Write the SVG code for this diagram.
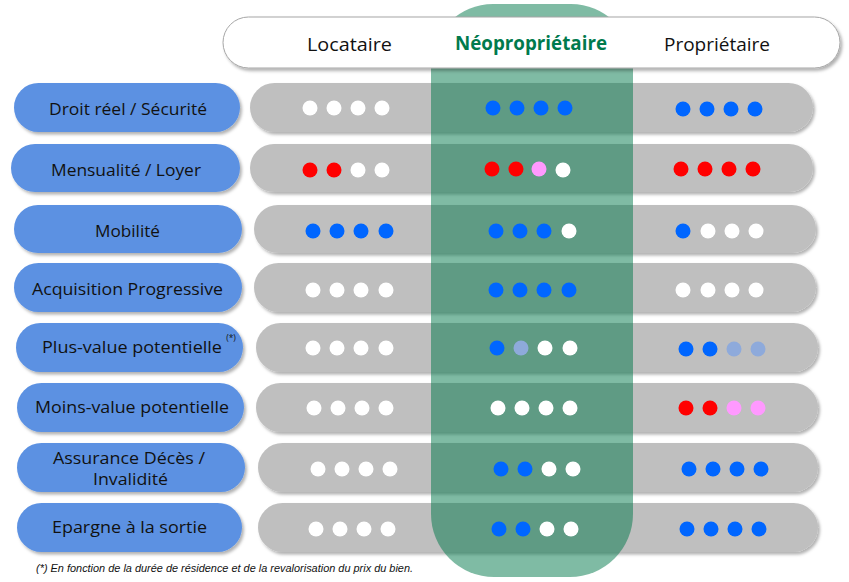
<svg xmlns="http://www.w3.org/2000/svg" width="849" height="582" viewBox="0 0 849 582">
<defs>
<filter id="sh" x="-10%" y="-30%" width="120%" height="170%">
<feDropShadow dx="2" dy="2.5" stdDeviation="1.5" flood-color="#000" flood-opacity="0.3"/>
</filter>
<style>
.lab{fill:#5b91e2;filter:url(#sh)}
.bar{fill:#bfbfbf;filter:url(#sh)}
.lt{font-family:"Open Sans","Liberation Sans",sans-serif;font-size:17px;fill:#111;text-anchor:middle;dominant-baseline:central}
.ht{font-family:"Open Sans","Liberation Sans",sans-serif;font-size:19px;fill:#111;text-anchor:middle;dominant-baseline:central}
.w{fill:#fff}.b{fill:#0066ff}.r{fill:#ff0000}.p{fill:#ff99ff}.lb{fill:#8eaadb}
</style>
</defs>
<rect width="849" height="582" fill="#fff"/>

<g id="bars">
<rect class="bar" x="250" y="83" width="563" height="49" rx="24.5"/>
<rect class="bar" x="250" y="144" width="563" height="48" rx="24"/>
<rect class="bar" x="254" y="205" width="562" height="48" rx="24"/>
<rect class="bar" x="254" y="263" width="562" height="49" rx="24.5"/>
<rect class="bar" x="256" y="323" width="562" height="49" rx="24.5"/>
<rect class="bar" x="256" y="383" width="562" height="49" rx="24.5"/>
<rect class="bar" x="258" y="443" width="560" height="49" rx="24.5"/>
<rect class="bar" x="258" y="503" width="560" height="49" rx="24.5"/>
</g>

<path id="neo-column" d="M431 66 A62 62 0 0 1 493 4 L571 4 A62 62 0 0 1 633 66 L633 514 A63 63 0 0 1 570 577 L494 577 A63 63 0 0 1 431 514 Z" fill="#00784a" fill-opacity="0.5"/>

<g id="header">
<rect x="223" y="17" width="617" height="51" rx="25.5" fill="#fff" stroke="#a6a6a6" stroke-width="1" filter="url(#sh)"/>
<text class="ht" x="349.5" y="44" textLength="85" lengthAdjust="spacingAndGlyphs">Locataire</text>
<text class="ht" x="531" y="43" textLength="152" lengthAdjust="spacingAndGlyphs" style="font-weight:bold;fill:#007a4d">Néopropriétaire</text>
<text class="ht" x="717" y="44" textLength="106" lengthAdjust="spacingAndGlyphs">Propriétaire</text>
</g>

<g id="row1">
<rect class="lab" x="14" y="83" width="226" height="49" rx="24.5"/>
<text class="lt" x="128" y="108" textLength="158" lengthAdjust="spacingAndGlyphs">Droit réel / Sécurité</text>
<circle class="w" cx="310" cy="108" r="7.5"/><circle class="w" cx="334" cy="108" r="7.5"/><circle class="w" cx="358" cy="108" r="7.5"/><circle class="w" cx="382" cy="108" r="7.5"/>
<circle class="b" cx="493" cy="108" r="7.5"/><circle class="b" cx="517" cy="108" r="7.5"/><circle class="b" cx="541" cy="108" r="7.5"/><circle class="b" cx="565" cy="108" r="7.5"/>
<circle class="b" cx="683" cy="109" r="7.5"/><circle class="b" cx="707" cy="109" r="7.5"/><circle class="b" cx="731" cy="109" r="7.5"/><circle class="b" cx="755" cy="109" r="7.5"/>
</g>

<g id="row2">
<rect class="lab" x="11" y="144" width="229" height="48" rx="24"/>
<text class="lt" x="126" y="169" textLength="150" lengthAdjust="spacingAndGlyphs">Mensualité / Loyer</text>
<circle class="r" cx="310" cy="170" r="7.5"/><circle class="r" cx="334" cy="170" r="7.5"/><circle class="w" cx="358" cy="170" r="7.5"/><circle class="w" cx="382" cy="170" r="7.5"/>
<circle class="r" cx="492" cy="169" r="7.5"/><circle class="r" cx="516" cy="169" r="7.5"/><circle class="p" cx="539" cy="169" r="7.5"/><circle class="w" cx="563" cy="170" r="7.5"/>
<circle class="r" cx="681" cy="169" r="7.5"/><circle class="r" cx="705" cy="169" r="7.5"/><circle class="r" cx="729" cy="169" r="7.5"/><circle class="r" cx="753" cy="169" r="7.5"/>
</g>

<g id="row3">
<rect class="lab" x="14" y="205" width="228" height="48" rx="24"/>
<text class="lt" x="127.5" y="230" textLength="65" lengthAdjust="spacingAndGlyphs">Mobilité</text>
<circle class="b" cx="313" cy="231" r="7.5"/><circle class="b" cx="337" cy="231" r="7.5"/><circle class="b" cx="361" cy="231" r="7.5"/><circle class="b" cx="386" cy="231" r="7.5"/>
<circle class="b" cx="496" cy="231" r="7.5"/><circle class="b" cx="520" cy="231" r="7.5"/><circle class="b" cx="544" cy="231" r="7.5"/><circle class="w" cx="569" cy="231" r="7.5"/>
<circle class="b" cx="683" cy="231" r="7.5"/><circle class="w" cx="708" cy="231" r="7.5"/><circle class="w" cx="732" cy="231" r="7.5"/><circle class="w" cx="756" cy="231" r="7.5"/>
</g>

<g id="row4">
<rect class="lab" x="14" y="263" width="228" height="49" rx="24.5"/>
<text class="lt" x="127.5" y="288" textLength="191" lengthAdjust="spacingAndGlyphs">Acquisition Progressive</text>
<circle class="w" cx="313" cy="290" r="7.5"/><circle class="w" cx="337" cy="290" r="7.5"/><circle class="w" cx="361" cy="290" r="7.5"/><circle class="w" cx="386" cy="290" r="7.5"/>
<circle class="b" cx="496" cy="290" r="7.5"/><circle class="b" cx="520" cy="290" r="7.5"/><circle class="b" cx="544" cy="290" r="7.5"/><circle class="b" cx="569" cy="290" r="7.5"/>
<circle class="w" cx="683" cy="290" r="7.5"/><circle class="w" cx="708" cy="290" r="7.5"/><circle class="w" cx="732" cy="290" r="7.5"/><circle class="w" cx="756" cy="290" r="7.5"/>
</g>

<g id="row5">
<rect class="lab" x="16" y="323" width="227" height="49" rx="24.5"/>
<text class="lt" x="132" y="346" textLength="180" lengthAdjust="spacingAndGlyphs">Plus-value potentielle</text>
<text x="231" y="341" style="font-family:'Open Sans','Liberation Sans',sans-serif;font-size:8.5px;fill:#111;text-anchor:middle">(*)</text>
<circle class="w" cx="313" cy="348" r="7.5"/><circle class="w" cx="337" cy="348" r="7.5"/><circle class="w" cx="361" cy="348" r="7.5"/><circle class="w" cx="386" cy="348" r="7.5"/>
<circle class="b" cx="497" cy="348" r="7.5"/><circle class="lb" cx="521" cy="348" r="7.5"/><circle class="w" cx="545" cy="348" r="7.5"/><circle class="w" cx="570" cy="348" r="7.5"/>
<circle class="b" cx="686" cy="349" r="7.5"/><circle class="b" cx="710" cy="349" r="7.5"/><circle class="lb" cx="734" cy="349" r="7.5"/><circle class="lb" cx="758" cy="349" r="7.5"/>
</g>

<g id="row6">
<rect class="lab" x="17" y="383" width="227" height="49" rx="24.5"/>
<text class="lt" x="132" y="406" textLength="194" lengthAdjust="spacingAndGlyphs">Moins-value potentielle</text>
<circle class="w" cx="314" cy="408" r="7.5"/><circle class="w" cx="338" cy="408" r="7.5"/><circle class="w" cx="362" cy="408" r="7.5"/><circle class="w" cx="386" cy="408" r="7.5"/>
<circle class="w" cx="498" cy="408" r="7.5"/><circle class="w" cx="522" cy="408" r="7.5"/><circle class="w" cx="546" cy="408" r="7.5"/><circle class="w" cx="570" cy="408" r="7.5"/>
<circle class="r" cx="686" cy="408" r="7.5"/><circle class="r" cx="710" cy="408" r="7.5"/><circle class="p" cx="734" cy="408" r="7.5"/><circle class="p" cx="758" cy="408" r="7.5"/>
</g>

<g id="row7">
<rect class="lab" x="17" y="443" width="228" height="49" rx="24.5"/>
<text class="lt" x="129" y="458" textLength="152" lengthAdjust="spacingAndGlyphs" style="font-size:16px">Assurance Décès /</text>
<text class="lt" x="130.5" y="479" textLength="75" lengthAdjust="spacingAndGlyphs" style="font-size:16px">Invalidité</text>
<circle class="w" cx="318" cy="469" r="7.5"/><circle class="w" cx="342" cy="469" r="7.5"/><circle class="w" cx="366" cy="469" r="7.5"/><circle class="w" cx="390" cy="469" r="7.5"/>
<circle class="b" cx="501" cy="469" r="7.5"/><circle class="b" cx="525" cy="469" r="7.5"/><circle class="w" cx="549" cy="469" r="7.5"/><circle class="w" cx="573" cy="469" r="7.5"/>
<circle class="b" cx="689" cy="469" r="7.5"/><circle class="b" cx="713" cy="469" r="7.5"/><circle class="b" cx="737" cy="469" r="7.5"/><circle class="b" cx="761" cy="469" r="7.5"/>
</g>

<g id="row8">
<rect class="lab" x="17" y="503" width="225" height="49" rx="24.5"/>
<text class="lt" x="129.5" y="526" textLength="155" lengthAdjust="spacingAndGlyphs">Epargne à la sortie</text>
<circle class="w" cx="316" cy="529" r="7.5"/><circle class="w" cx="340" cy="529" r="7.5"/><circle class="w" cx="364" cy="529" r="7.5"/><circle class="w" cx="388" cy="529" r="7.5"/>
<circle class="b" cx="499" cy="529" r="7.5"/><circle class="b" cx="523" cy="529" r="7.5"/><circle class="w" cx="547" cy="529" r="7.5"/><circle class="w" cx="571" cy="529" r="7.5"/>
<circle class="b" cx="687" cy="529" r="7.5"/><circle class="b" cx="711" cy="529" r="7.5"/><circle class="b" cx="735" cy="529" r="7.5"/><circle class="b" cx="759" cy="529" r="7.5"/>
</g>

<text id="footnote" x="36" y="572" textLength="377" lengthAdjust="spacingAndGlyphs" style="font-family:'Liberation Sans',sans-serif;font-size:11.5px;font-style:italic;fill:#111">(*) En fonction de la durée de résidence et de la revalorisation du prix du bien.</text>
</svg>
